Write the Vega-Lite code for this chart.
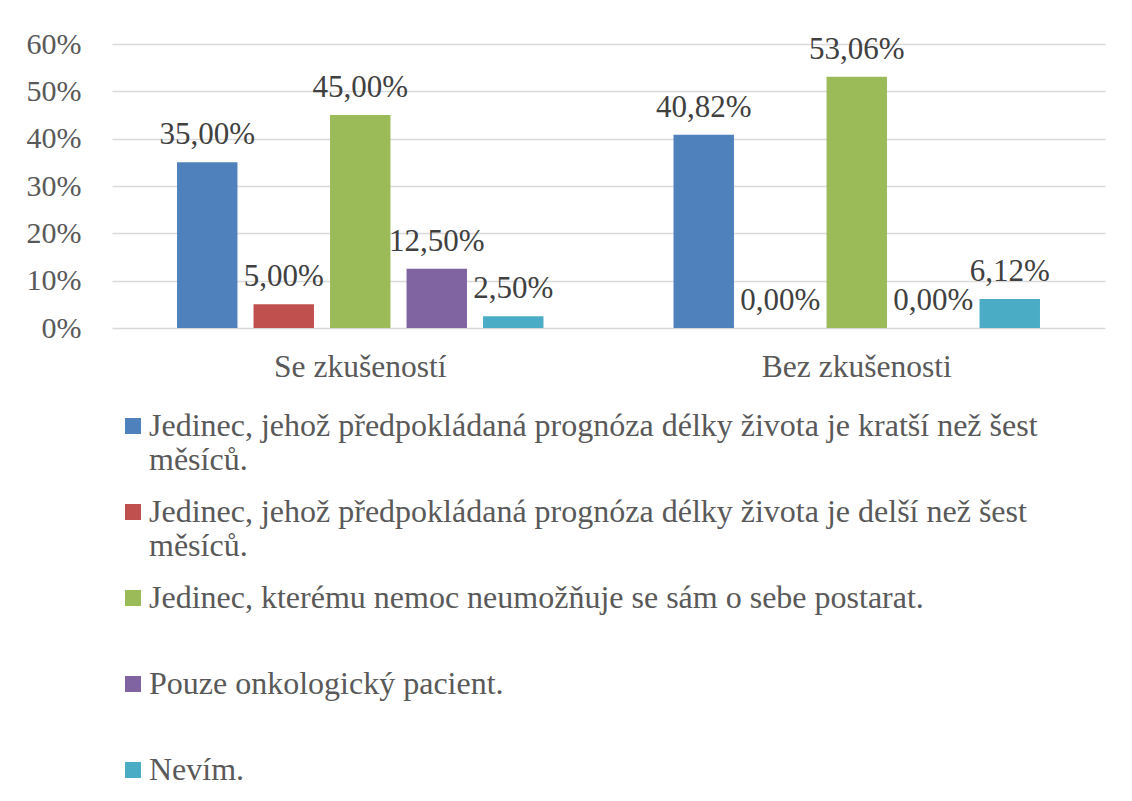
{
  "$schema": "https://vega.github.io/schema/vega-lite/v6.json",
  "width": 993,
  "height": 284,
  "autosize": {"type": "none"},
  "padding": {"left": 112, "top": 44, "right": 27, "bottom": 473},
  "background": "white",
  "config": {
    "locale": {"number": {"decimal": ",", "thousands": " ", "grouping": [3], "currency": ["", " Kč"]}},
    "font": "serif",
    "view": {"stroke": null},
    "axis": {"labelFont": "serif", "labelFontSize": 30, "labelColor": "#595959"}
  },
  "data": {
    "values": [
      {"skupina": "Se zkušeností", "odpoved": "Jedinec, jehož předpokládaná prognóza délky života je kratší než šest měsíců.", "podil": 0.35},
      {"skupina": "Se zkušeností", "odpoved": "Jedinec, jehož předpokládaná prognóza délky života je delší než šest měsíců.", "podil": 0.05},
      {"skupina": "Se zkušeností", "odpoved": "Jedinec, kterému nemoc neumožňuje se sám o sebe postarat.", "podil": 0.45},
      {"skupina": "Se zkušeností", "odpoved": "Pouze onkologický pacient.", "podil": 0.125},
      {"skupina": "Se zkušeností", "odpoved": "Nevím.", "podil": 0.025},
      {"skupina": "Bez zkušenosti", "odpoved": "Jedinec, jehož předpokládaná prognóza délky života je kratší než šest měsíců.", "podil": 0.4082},
      {"skupina": "Bez zkušenosti", "odpoved": "Jedinec, jehož předpokládaná prognóza délky života je delší než šest měsíců.", "podil": 0.0},
      {"skupina": "Bez zkušenosti", "odpoved": "Jedinec, kterému nemoc neumožňuje se sám o sebe postarat.", "podil": 0.5306},
      {"skupina": "Bez zkušenosti", "odpoved": "Pouze onkologický pacient.", "podil": 0.0},
      {"skupina": "Bez zkušenosti", "odpoved": "Nevím.", "podil": 0.0612}
    ]
  },
  "encoding": {
    "x": {
      "field": "skupina", "type": "nominal", "sort": ["Se zkušeností", "Bez zkušenosti"],
      "scale": {"paddingInner": 0, "paddingOuter": 0},
      "axis": {"title": null, "labelAngle": 0, "ticks": false, "domain": false, "labelPadding": 23, "labelBaseline": "top", "labelLimit": 500, "labelFontSize": 31.5}
    },
    "xOffset": {
      "field": "odpoved", "type": "nominal",
      "sort": [
        "Jedinec, jehož předpokládaná prognóza délky života je kratší než šest měsíců.",
        "Jedinec, jehož předpokládaná prognóza délky života je delší než šest měsíců.",
        "Jedinec, kterému nemoc neumožňuje se sám o sebe postarat.",
        "Pouze onkologický pacient.",
        "Nevím."
      ],
      "scale": {"paddingInner": 0.21, "paddingOuter": 0.85}
    },
    "y": {
      "field": "podil", "type": "quantitative",
      "scale": {"domain": [0, 0.6], "nice": false},
      "axis": {"title": null, "format": ".0%", "values": [0, 0.1, 0.2, 0.3, 0.4, 0.5, 0.6], "labelOverlap": false, "ticks": false, "domain": false, "labelPadding": 31, "gridColor": "#d9d9d9", "gridWidth": 1.5}
    }
  },
  "layer": [
    {
      "mark": {"type": "bar"},
      "encoding": {
        "color": {
          "field": "odpoved", "type": "nominal",
          "sort": [
            "Jedinec, jehož předpokládaná prognóza délky života je kratší než šest měsíců.",
            "Jedinec, jehož předpokládaná prognóza délky života je delší než šest měsíců.",
            "Jedinec, kterému nemoc neumožňuje se sám o sebe postarat.",
            "Pouze onkologický pacient.",
            "Nevím."
          ],
          "scale": {"range": ["#4F81BD", "#C0504D", "#9BBB59", "#8064A2", "#4BACC6"]},
          "legend": {
            "title": null,
            "orient": "none",
            "legendX": 5,
            "legendY": 366,
            "direction": "vertical",
            "gridAlign": "all",
            "rowPadding": 20,
            "symbolType": "square",
            "symbolSize": 256,
            "symbolStrokeWidth": 0,
            "labelOffset": 0,
            "labelFont": "serif",
            "labelFontSize": 32,
            "labelColor": "#595959",
            "labelLimit": 1100,
            "labelExpr": "indexof(datum.label, ' měsíců.') > 0 ? [replace(datum.label, ' měsíců.', ''), 'měsíců.'] : datum.label"
          }
        }
      }
    },
    {
      "mark": {"type": "text", "baseline": "alphabetic", "dy": -18, "fontSize": 31, "font": "serif", "color": "#404040"},
      "encoding": {
        "text": {"field": "podil", "type": "quantitative", "format": ".2%"}
      }
    }
  ]
}
